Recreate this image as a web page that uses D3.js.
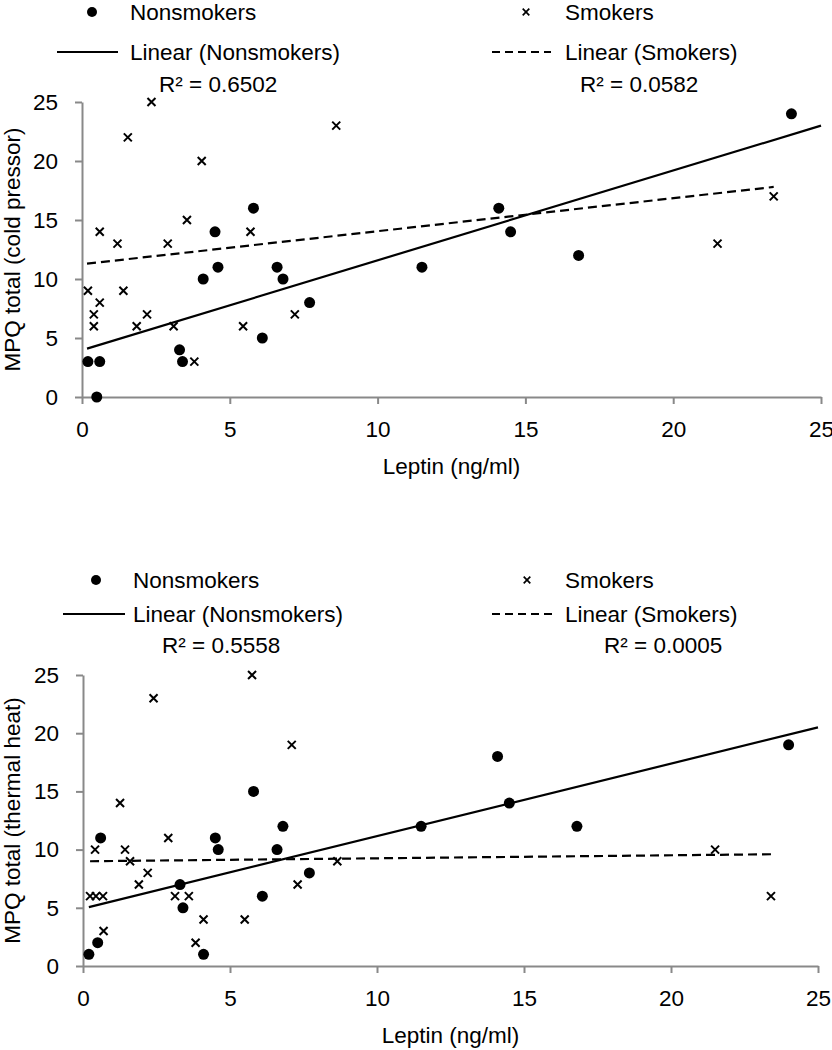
<!DOCTYPE html>
<html>
<head>
<meta charset="utf-8">
<script src="https://cdn.jsdelivr.net/npm/d3@7"></script>
<style>
  html, body { margin: 0; padding: 0; background: #fff; }
  svg { display: block; }
  text { font-family: "Liberation Sans", Arial, sans-serif; fill: #000; }
</style>
</head>
<body>
<svg id="chart" width="832" height="1050"></svg>
<script>
// ---------- Data ----------
const xTicks = [0, 5, 10, 15, 20, 25];
const yTicks = [0, 5, 10, 15, 20, 25];

// Chart 1: MPQ total (cold pressor)
const coldNonsmokersX = [0.2, 0.5, 0.6, 3.3, 3.4, 4.1, 4.5, 4.6, 5.8, 6.1, 6.6, 6.8, 7.7, 11.5, 14.1, 14.5, 16.8, 24.0];
const coldNonsmokersY = [3, 0, 3, 4, 3, 10, 14, 11, 16, 5, 11, 10, 8, 11, 16, 14, 12, 24];
const coldSmokersX = [0.2, 0.4, 0.4, 0.6, 0.6, 1.2, 1.4, 1.55, 1.85, 2.2, 2.35, 2.9, 3.1, 3.55, 3.8, 4.05, 5.45, 5.7, 7.2, 8.6, 21.5, 23.4];
const coldSmokersY = [9, 7, 6, 14, 8, 13, 9, 22, 6, 7, 25, 13, 6, 15, 3, 20, 6, 14, 7, 23, 13, 17];
const coldTrendNonsmokers = [[0.17, 4.1], [25, 23.0]];
const coldTrendSmokers = [[0.17, 11.3], [23.4, 17.8]];

// Chart 2: MPQ total (thermal heat)
const heatNonsmokersX = [0.2, 0.5, 0.6, 3.3, 3.4, 4.1, 4.5, 4.6, 5.8, 6.1, 6.6, 6.8, 7.7, 11.5, 14.1, 14.5, 16.8, 24.0];
const heatNonsmokersY = [1, 2, 11, 7, 5, 1, 11, 10, 15, 6, 10, 12, 8, 12, 18, 14, 12, 19];
const heatSmokersX = [0.24, 0.41, 0.44, 0.68, 0.7, 1.26, 1.43, 1.6, 1.9, 2.2, 2.4, 2.9, 3.13, 3.6, 3.83, 4.1, 5.5, 5.75, 7.1, 7.3, 8.65, 21.5, 23.4];
const heatSmokersY = [6, 10, 6, 6, 3, 14, 10, 9, 7, 8, 23, 11, 6, 6, 2, 4, 4, 25, 19, 7, 9, 10, 6];
const heatTrendNonsmokers = [[0.2, 5.06], [25, 20.5]];
const heatTrendSmokers = [[0.24, 9.0], [23.4, 9.6]];

const legendLabels = ["Nonsmokers", "Smokers", "Linear (Nonsmokers)", "Linear (Smokers)"];
const xTitle = "Leptin (ng/ml)";

// ---------- Drawing ----------
const svg = d3.select("#chart");
const AXIS = "#898989";
const FS = 22.5;

function cross(cx, cy, r) {
  return `M${cx - r},${cy - r}L${cx + r},${cy + r}M${cx - r},${cy + r}L${cx + r},${cy - r}`;
}

function drawChart(cfg) {
  const g = svg.append("g");
  const x = d3.scaleLinear().domain([0, 25]).range(cfg.xRange);
  const y = d3.scaleLinear().domain([0, 25]).range(cfg.yRange);

  // axes
  const xa = g.append("g").attr("transform", `translate(0,${cfg.yRange[0]})`)
    .call(d3.axisBottom(x).tickValues(xTicks).tickSize(7).tickSizeOuter(0).tickPadding(17));
  const ya = g.append("g").attr("transform", `translate(${cfg.xRange[0]},0)`)
    .call(d3.axisLeft(y).tickValues(yTicks).tickSize(7).tickSizeOuter(0).tickPadding(17));
  [xa, ya].forEach(a => {
    a.select(".domain").attr("stroke", AXIS).attr("stroke-width", 2);
    a.selectAll(".tick line").attr("stroke", AXIS).attr("stroke-width", 2);
    a.selectAll(".tick text").attr("font-size", FS).attr("font-family", null).attr("fill", "#000");
  });

  // trend lines
  const line = d3.line().x(d => x(d[0])).y(d => y(d[1]));
  g.append("path").datum(cfg.trendN).attr("d", line)
    .attr("fill", "none").attr("stroke", "#000").attr("stroke-width", 2.2);
  g.append("path").datum(cfg.trendS).attr("d", line)
    .attr("fill", "none").attr("stroke", "#000").attr("stroke-width", 2.2)
    .attr("stroke-dasharray", "9,5");

  // points
  const nData = cfg.nX.map((v, i) => [v, cfg.nY[i]]);
  const sData = cfg.sX.map((v, i) => [v, cfg.sY[i]]);
  g.selectAll("circle.n").data(nData).join("circle").attr("class", "n")
    .attr("cx", d => x(d[0])).attr("cy", d => y(d[1])).attr("r", 5.5).attr("fill", "#000");
  g.selectAll("path.s").data(sData).join("path").attr("class", "s")
    .attr("d", d => cross(x(d[0]), y(d[1]), 4))
    .attr("stroke", "#000").attr("stroke-width", 2).attr("fill", "none");

  // axis titles
  g.append("text").attr("x", (cfg.xRange[0] + cfg.xRange[1]) / 2).attr("y", cfg.xTitleY)
    .attr("text-anchor", "middle").attr("dominant-baseline", "central").attr("font-size", FS).text(xTitle);
  g.append("text")
    .attr("transform", `translate(${cfg.yTitleX},${(cfg.yRange[0] + cfg.yRange[1]) / 2}) rotate(-90)`)
    .attr("text-anchor", "middle").attr("dominant-baseline", "central").attr("font-size", FS).text(cfg.yTitle);

  // legend
  const L = cfg.legend;
  g.append("circle").attr("cx", L.dotX).attr("cy", L.row1).attr("r", 5).attr("fill", "#000");
  g.append("path").attr("d", cross(L.crossX, L.row1, 3.3))
    .attr("stroke", "#000").attr("stroke-width", 1.7);
  g.append("line").attr("x1", L.lineN[0]).attr("x2", L.lineN[1]).attr("y1", L.row2).attr("y2", L.row2)
    .attr("stroke", "#000").attr("stroke-width", 2.2);
  g.append("line").attr("x1", L.lineS[0]).attr("x2", L.lineS[1]).attr("y1", L.row2).attr("y2", L.row2)
    .attr("stroke", "#000").attr("stroke-width", 2.2).attr("stroke-dasharray", "8,5");
  const txt = (tx, ty, s) => g.append("text").attr("x", tx).attr("y", ty)
    .attr("dominant-baseline", "central").attr("font-size", FS).text(s);
  txt(L.textN, L.row1, legendLabels[0]);
  txt(L.textS, L.row1, legendLabels[1]);
  txt(L.textN, L.row2, legendLabels[2]);
  txt(L.textS, L.row2, legendLabels[3]);
  txt(L.r2NX, L.row3, "R² = " + cfg.r2N);
  txt(L.r2SX, L.row3, "R² = " + cfg.r2S);
}

drawChart({
  xRange: [82, 821], yRange: [397, 102],
  nX: coldNonsmokersX, nY: coldNonsmokersY, sX: coldSmokersX, sY: coldSmokersY,
  trendN: coldTrendNonsmokers, trendS: coldTrendSmokers,
  yTitle: "MPQ total (cold pressor)", yTitleX: 12, xTitleY: 466,
  r2N: "0.6502", r2S: "0.0582",
  legend: { row1: 12, row2: 52, row3: 84, dotX: 92, crossX: 526, textN: 130, textS: 565,
            lineN: [57, 118], lineS: [492, 551], r2NX: 159, r2SX: 580 }
});

drawChart({
  xRange: [83, 818], yRange: [966, 675],
  nX: heatNonsmokersX, nY: heatNonsmokersY, sX: heatSmokersX, sY: heatSmokersY,
  trendN: heatTrendNonsmokers, trendS: heatTrendSmokers,
  yTitle: "MPQ total (thermal heat)", yTitleX: 12, xTitleY: 1035,
  r2N: "0.5558", r2S: "0.0005",
  legend: { row1: 580, row2: 614, row3: 645, dotX: 96, crossX: 527, textN: 133, textS: 565,
            lineN: [63, 125], lineS: [492, 553], r2NX: 162, r2SX: 604 }
});
</script>
</body>
</html>
